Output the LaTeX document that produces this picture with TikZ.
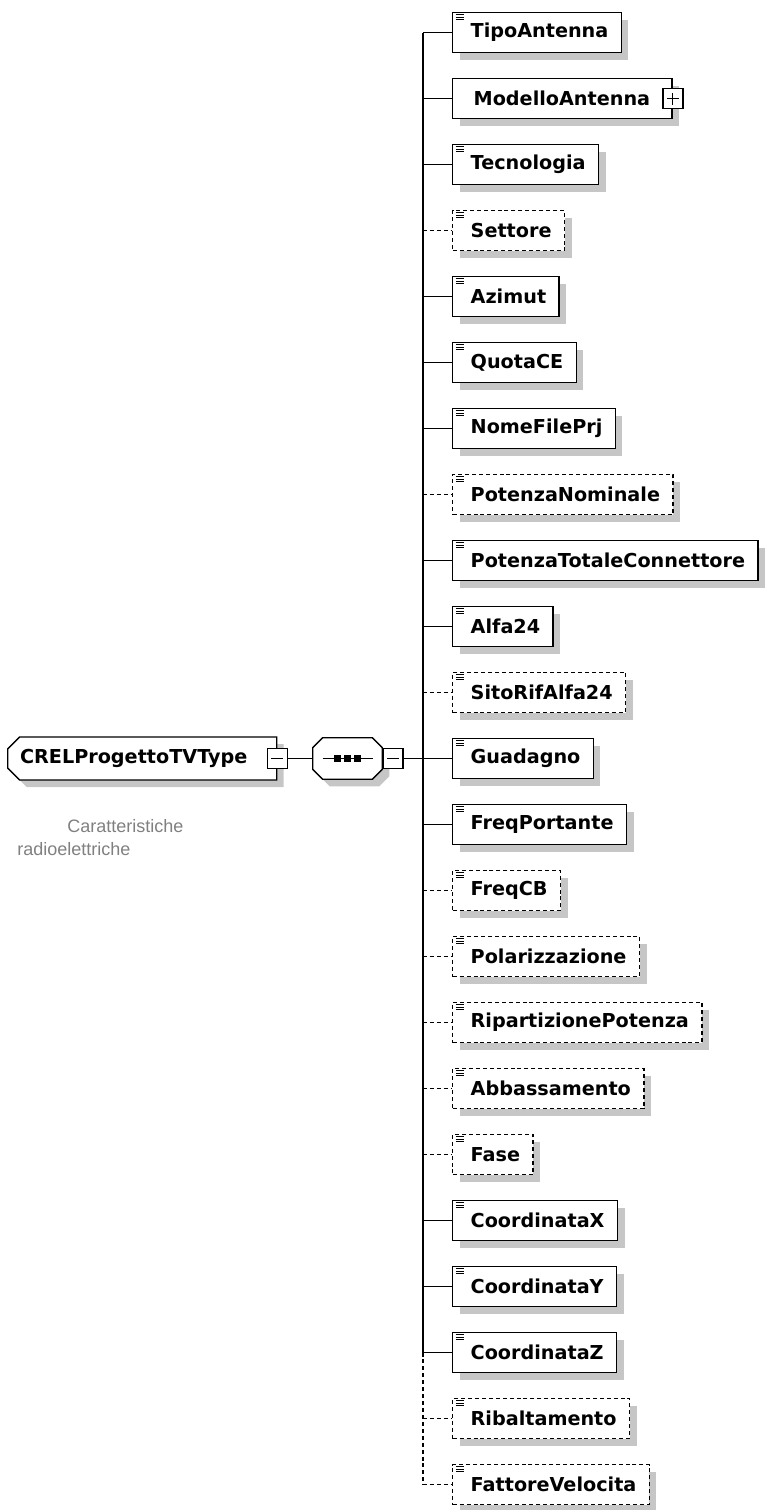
\documentclass[tikz,border=0pt]{standalone}
\usepackage{fontspec}
\setmainfont{DejaVu Sans}
\newfontfamily\descfont{Liberation Sans}
\usetikzlibrary{shapes.misc,shadows}

\newcommand\elfont{\bfseries\fontsize{14.4}{17}\selectfont}

\tikzset{
  link/.style={line width=0.95pt},
  optlink/.style={link, dash pattern=on 3pt off 2.2pt},
  elem link/.style={link},
  ctelem link/.style={link},
  optelem link/.style={optlink},
  boxshadow/.style={drop shadow={shadow xshift=5.25pt, shadow yshift=-5.25pt, fill=gray!45, opacity=1}},
  elembox/.style={draw, fill=white, line width=1.05pt, anchor=west, minimum height=30pt,
    inner xsep=0pt, inner ysep=0pt, font=\elfont, boxshadow},
  elem/.style={elembox, execute at begin node=\hspace*{13.5pt}, execute at end node=\hspace*{9.75pt},
    path picture={\foreach \k in {1.6pt,3.3pt,5.1pt}
      \draw[solid, line width=0.6pt] ([shift={(2.3pt,-\k)}]path picture bounding box.north west) -- ++(6pt,0pt);}},
  optelem/.style={elem, dash pattern=on 3pt off 2.2pt},
  ctelem/.style={elembox, execute at begin node=\hspace*{15.75pt}, execute at end node=\hspace*{16.5pt}},
  expander/.style={draw, fill=white, line width=1.05pt, minimum size=15pt, inner sep=0pt},
  minusbox/.style={expander, path picture={
    \draw[line width=0.9pt] ([xshift=3pt]path picture bounding box.west) -- ([xshift=-3pt]path picture bounding box.east);}},
  plusbox/.style={expander, path picture={
    \draw[line width=0.9pt] ([xshift=3pt]path picture bounding box.west) -- ([xshift=-3pt]path picture bounding box.east);
    \draw[line width=0.9pt] ([yshift=3pt]path picture bounding box.south) -- ([yshift=-3pt]path picture bounding box.north);}},
  rootbox/.style={chamfered rectangle, chamfered rectangle corners={north west,south west},
    chamfered rectangle xsep=4.5pt, chamfered rectangle ysep=4.5pt, draw, fill=white, line width=1.05pt,
    anchor=west, minimum width=201.75pt, minimum height=32.25pt, inner sep=0pt, font=\elfont, boxshadow,
    execute at end node=\hspace*{12.75pt}},
  seqframe/.style={minimum width=51.75pt, minimum height=30.75pt, inner sep=0pt},
  seqline/.style={draw, fill=white, line width=1.05pt, boxshadow},
  desc/.style={font=\descfont\fontsize{13.5}{17.25}\selectfont, text=gray, align=left, inner sep=0pt}
}

\begin{document}
\begin{tikzpicture}[x=0.75pt,y=-0.75pt]
  \useasboundingbox (0,0) rectangle (764,1510);

  % root type and its sequence
  \node[rootbox] (root) at (7,758.5) {CRELProgettoTVType};
  \node[minusbox] (rootx) at (root.east) {};
  \node[desc, anchor=base west] (doc) at (17,855) {\hspace*{37.5pt}Caratteristiche\\radioelettriche};
  \node[seqframe] (seq) at (347.5,758.5) {};
  \path[seqline] ([xshift=7.5pt]seq.north west) -- ([xshift=-7.5pt]seq.north east)
    -- ([yshift=-7.5pt]seq.north east) -- ([yshift=7.5pt]seq.south east)
    -- ([xshift=-7.5pt]seq.south east) -- ([xshift=7.5pt]seq.south west)
    -- ([yshift=7.5pt]seq.south west) -- ([yshift=-7.5pt]seq.north west) -- cycle;
  \draw[link] ([xshift=-18.75pt]seq.center) -- ([xshift=18.75pt]seq.center);
  \foreach \d in {-7.5pt,0pt,7.5pt}
    \fill ([xshift=\d]seq.center) +(-2.4pt,-2.4pt) rectangle +(2.4pt,2.4pt);
  \node[minusbox, anchor=west] (seqx) at (seq.east) {};
  \coordinate (hub) at (423,758.5);
  \draw[link] (rootx.east) -- (seq.west);
  \draw[link] (seqx.east) -- (hub);

  % child elements
  \foreach \name/\st [count=\i] in {TipoAntenna/elem, ModelloAntenna/ctelem, Tecnologia/elem,
      Settore/optelem, Azimut/elem, QuotaCE/elem, NomeFilePrj/elem, PotenzaNominale/optelem,
      PotenzaTotaleConnettore/elem, Alfa24/elem, SitoRifAlfa24/optelem, Guadagno/elem,
      FreqPortante/elem, FreqCB/optelem, Polarizzazione/optelem, RipartizionePotenza/optelem,
      Abbassamento/optelem, Fase/optelem, CoordinataX/elem, CoordinataY/elem, CoordinataZ/elem,
      Ribaltamento/optelem, FattoreVelocita/optelem} {
    \node[\st] (e\i) at (452,{32.5+66*(\i-1)}) {\name};
    \coordinate (t\i) at (423,{32.5+66*(\i-1)});
    \draw[\st\space link] (t\i) -- (e\i.west);
  }
  \node[plusbox] (e2x) at (e2.east) {};

  % trunk
  \draw[link] (t1) -- (t21);
  \draw[optlink] (t21) -- (t23);
\end{tikzpicture}
\end{document}
